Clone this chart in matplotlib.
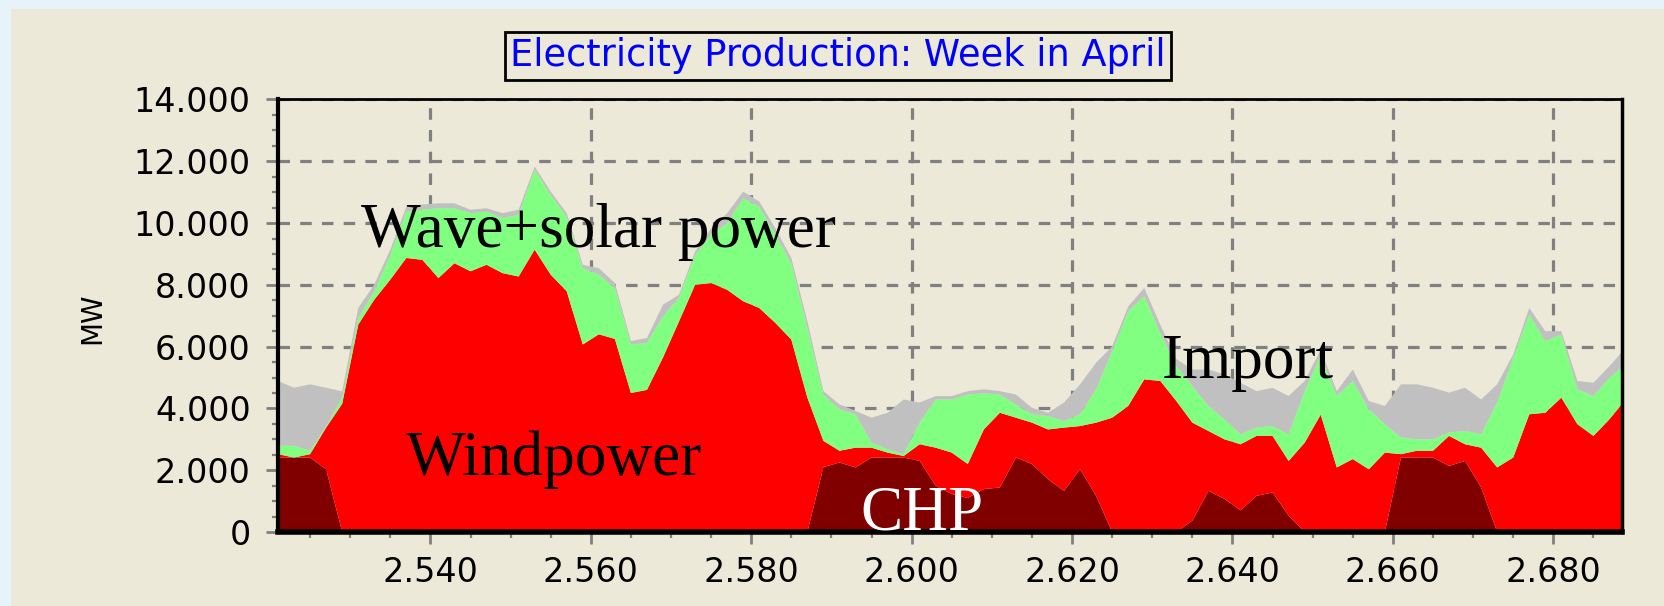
"""Stacked electricity production for one week in April"""
import numpy as np
import matplotlib
matplotlib.use("Agg")
import matplotlib.pyplot as plt
from matplotlib.patches import Rectangle
from matplotlib.ticker import MultipleLocator, FuncFormatter

# hour of the year, every second hour
hours = list(range(2521, 2690, 2))

chp = [2410, 2410, 2410, 2030, 0, 0, 0, 0, 0, 0, 0, 0, 0, 0, 0, 0, 0, 0, 0,
       0, 0, 0, 0, 0, 0, 0, 0, 0, 0, 0, 0, 0, 0, 0, 2100, 2250, 2090, 2410,
       2410, 2410, 2300, 1500, 1230, 1100, 1390, 1440, 2410, 2200, 1710,
       1330, 2030, 1170, 0, 0, 0, 0, 0, 370, 1330, 1070, 700, 1170, 1280,
       530, 0, 0, 0, 0, 0, 0, 2410, 2410, 2410, 2140, 2300, 1440, 0, 0, 0,
       0, 0, 0, 0, 0, 0]
wind = [110, 0, 110, 1350, 4150, 6710, 7520, 8170, 8870, 8810, 8220, 8700,
        8440, 8650, 8380, 8270, 9140, 8330, 7790, 6070, 6400, 6250, 4500,
        4600, 5650, 6820, 8000, 8060, 7840, 7470, 7250, 6770, 6230, 4350,
        850, 380, 640, 320, 160, 50, 540, 1230, 1340, 1100, 1930, 2420, 1290,
        1340, 1610, 2050, 1400, 2370, 3700, 4080, 4940, 4890, 4240, 3170,
        1940, 1930, 2140, 1940, 1830, 1770, 2890, 3800, 2090, 2360, 2030,
        2570, 110, 220, 220, 970, 540, 1290, 2090, 2410, 3810, 3860, 4350,
        3490, 3110, 3650, 4290]
wave_solar = [270, 380, 110, 40, 200, 220, 270, 800, 1500, 1620, 2260, 1780,
              1880, 1720, 1780, 2000, 2580, 2580, 2420, 2470, 1930, 1650, 1570,
              1520, 1330, 760, 970, 1560, 2160, 3330, 3280, 2850, 2470, 2260,
              1500, 1340, 1080, 160, 110, 60, 700, 1560, 1720, 2250, 1170, 590,
              430, 270, 430, 210, 380, 1080, 2150, 3060, 2690, 1550, 1130,
              1180, 810, 650, 320, 270, 320, 860, 1670, 1900, 2310, 2530, 1940,
              920, 540, 370, 370, 110, 430, 430, 2100, 3230, 3230, 2320, 2040,
              1130, 1290, 1340, 1130]
imports = [2100, 1880, 2150, 1250, 200, 320, 220, 170, 160, 170, 160, 160,
           110, 110, 160, 160, 110, 110, 110, 110, 210, 160, 110, 160, 380,
           100, 110, 210, 320, 220, 170, 210, 170, 210, 110, 160, 110, 810,
           1180, 1770, 650, 110, 110, 110, 130, 110, 320, 210, 110, 600, 970,
           860, 160, 160, 270, 270, 230, 540, 1180, 1450, 1670, 1180, 1240,
           1240, 330, 200, 160, 370, 270, 590, 1720, 1780, 1670, 1290, 1400,
           1130, 590, 110, 210, 320, 110, 270, 430, 380, 540]

beige = "#ECE9D8"
grid_grey = "#808080"


def thousands(v, pos):
    return "{:,.0f}".format(v).replace(",", ".")


fig = plt.figure(figsize=(16.64, 6.06), dpi=100, facecolor="#e6f3f8")
fig.patches.append(Rectangle((11 / 1664, 0), 1, 1 - 9 / 606,
                             transform=fig.transFigure, facecolor=beige,
                             edgecolor="none", zorder=-10))

ax = fig.add_axes([0.16707, 0.12211, 0.80739, 0.7137])
ax.set_facecolor(beige)
ax.stackplot(hours, chp, wind, wave_solar, imports,
             colors=["#800000", "#FF0000", "#80FF80", "#C0C0C0"],
             linewidth=0)
ax.set_xlim(2521, 2688.5)
ax.set_ylim(0, 14000)

ax.xaxis.set_major_locator(MultipleLocator(20))
ax.xaxis.set_minor_locator(MultipleLocator(5))
ax.yaxis.set_major_locator(MultipleLocator(2000))
ax.yaxis.set_minor_locator(MultipleLocator(500))
ax.xaxis.set_major_formatter(FuncFormatter(thousands))
ax.yaxis.set_major_formatter(FuncFormatter(thousands))

ax.set_axisbelow(True)
ax.grid(True, which="major", color=grid_grey, linewidth=2.3,
        linestyle=(0, (3.6, 3.2)))
ax.tick_params(which="major", direction="out", length=8.6, width=2,
               color=grid_grey, labelsize=24, labelcolor="black")
ax.tick_params(axis="y", which="major", pad=11)
ax.tick_params(axis="x", which="major", pad=9)
ax.tick_params(which="minor", direction="out", length=4, width=1.6,
               color=grid_grey)
ax.tick_params(top=False, right=False)

ax.spines["left"].set_linewidth(3)
ax.spines["bottom"].set_linewidth(4)
ax.spines["top"].set_linewidth(2)
ax.spines["right"].set_linewidth(2.5)

ax.set_ylabel("MW", fontsize=20)
ax.yaxis.set_label_coords(-0.128, 0.495)

fig.text(838 / 1664, 0.9076, "Electricity Production: Week in April",
         ha="center", va="center", fontsize=26.5, color="#0000FF",
         bbox=dict(boxstyle="square,pad=0.15", facecolor=beige,
                   edgecolor="black", linewidth=2))

serif = "Liberation Serif"
ax.text(2531.4, 9235, "Wave+solar power", fontsize=45.5, family=serif,
        ha="left", va="baseline")
ax.text(2536.9, 1845, "Windpower", fontsize=45.5, family=serif,
        ha="left", va="baseline")
ax.text(2631.2, 4985, "Import", fontsize=45.5, family=serif,
        ha="left", va="baseline")
ax.text(2593.6, 65, "CHP", fontsize=45.5, family=serif, color="white",
        ha="left", va="baseline")

fig.savefig("out.png", dpi=100, facecolor=fig.get_facecolor())
